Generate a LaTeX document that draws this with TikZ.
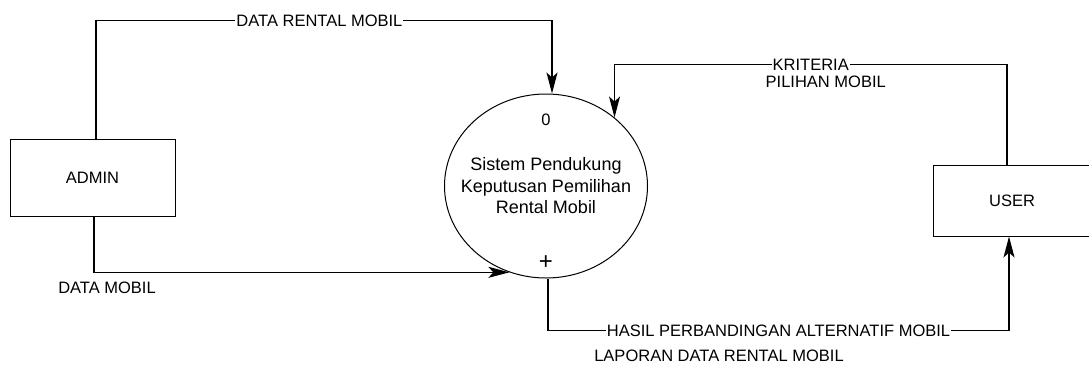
\documentclass[tikz,border=0pt]{standalone}
\usepackage{fontspec}
\setmainfont{Liberation Sans}
\usetikzlibrary{shapes.geometric, arrows.meta, positioning}
\tikzset{
  % --- DFD level 0 ------------------------------------------
  entity/.style={draw, line width=1pt, fill=white, minimum width=165pt,
    minimum height=77pt, align=center, font=\fontsize{16.5}{19}\selectfont},
  procbub/.style={draw, ellipse, line width=1pt, fill=white,
    minimum width=203pt, minimum height=184pt, align=center,
    inner xsep=-20pt, inner ysep=0pt, font=\fontsize{18}{21.5}\selectfont},
  flow/.style={-{Stealth[length=21pt, width=11pt, inset=5pt]},
    line width=1.3pt},
  lbl/.style={font=\fontsize{16.5}{19}\selectfont, fill=white,
    inner xsep=1pt, inner ysep=0pt},
  txt/.style={font=\fontsize{16.5}{19}\selectfont, inner sep=0pt}
}

\begin{document}
\begin{tikzpicture}[x=1pt, y=-1pt]
  \fill[white] (0,0) rectangle (1089,365);
  \useasboundingbox (0,0) rectangle (1089,365);

  % ---------- Entitas luar ----------
  \node[entity] (admin) at (92.5,177.5) {ADMIN};
  \node[entity, minimum width=158pt, minimum height=71pt] (user)
    at (1012,200.5) {USER};

  % ---------- Proses 0 ----------
  \node[procbub] (proc) at (546,186)
    {Sistem Pendukung\\Keputusan Pemilihan\\Rental Mobil};
  \node[txt, below=20pt of proc.north] (pnum) {0};
  \node[txt, font=\fontsize{24}{24}\selectfont, above=9pt of proc.south]
    (pplus) {+};

  % ---------- Aliran data ----------
  \draw[flow] ([xshift=3.5pt]admin.north) -- ++(0,-118)
    -| node[lbl, pos=0.245] (drm) {DATA RENTAL MOBIL}
    ([xshift=6pt]proc.north);
  \draw[flow] ([xshift=1.5pt]admin.south)
    |- node[txt, pos=0.5, below=9pt, xshift=13pt] (dm) {DATA MOBIL}
    (proc.247);
  \draw[flow] ([xshift=-5pt]user.north) -- ++(0,-100)
    -| node[lbl, pos=0.25] (kri) {KRITERIA} (proc.45);
  \node[txt, below=5pt of kri, xshift=15pt] (kri2) {PILIHAN MOBIL};
  \draw[flow] ([xshift=2pt]proc.south) -- ++(0,52)
    -| node[lbl, pos=0.25] (hasil) {HASIL PERBANDINGAN ALTERNATIF MOBIL}
    ([xshift=-3pt]user.south);
  \node[txt, below=12.5pt of hasil, xshift=-59.5pt] (lap)
    {LAPORAN DATA RENTAL MOBIL};

\end{tikzpicture}
\end{document}
